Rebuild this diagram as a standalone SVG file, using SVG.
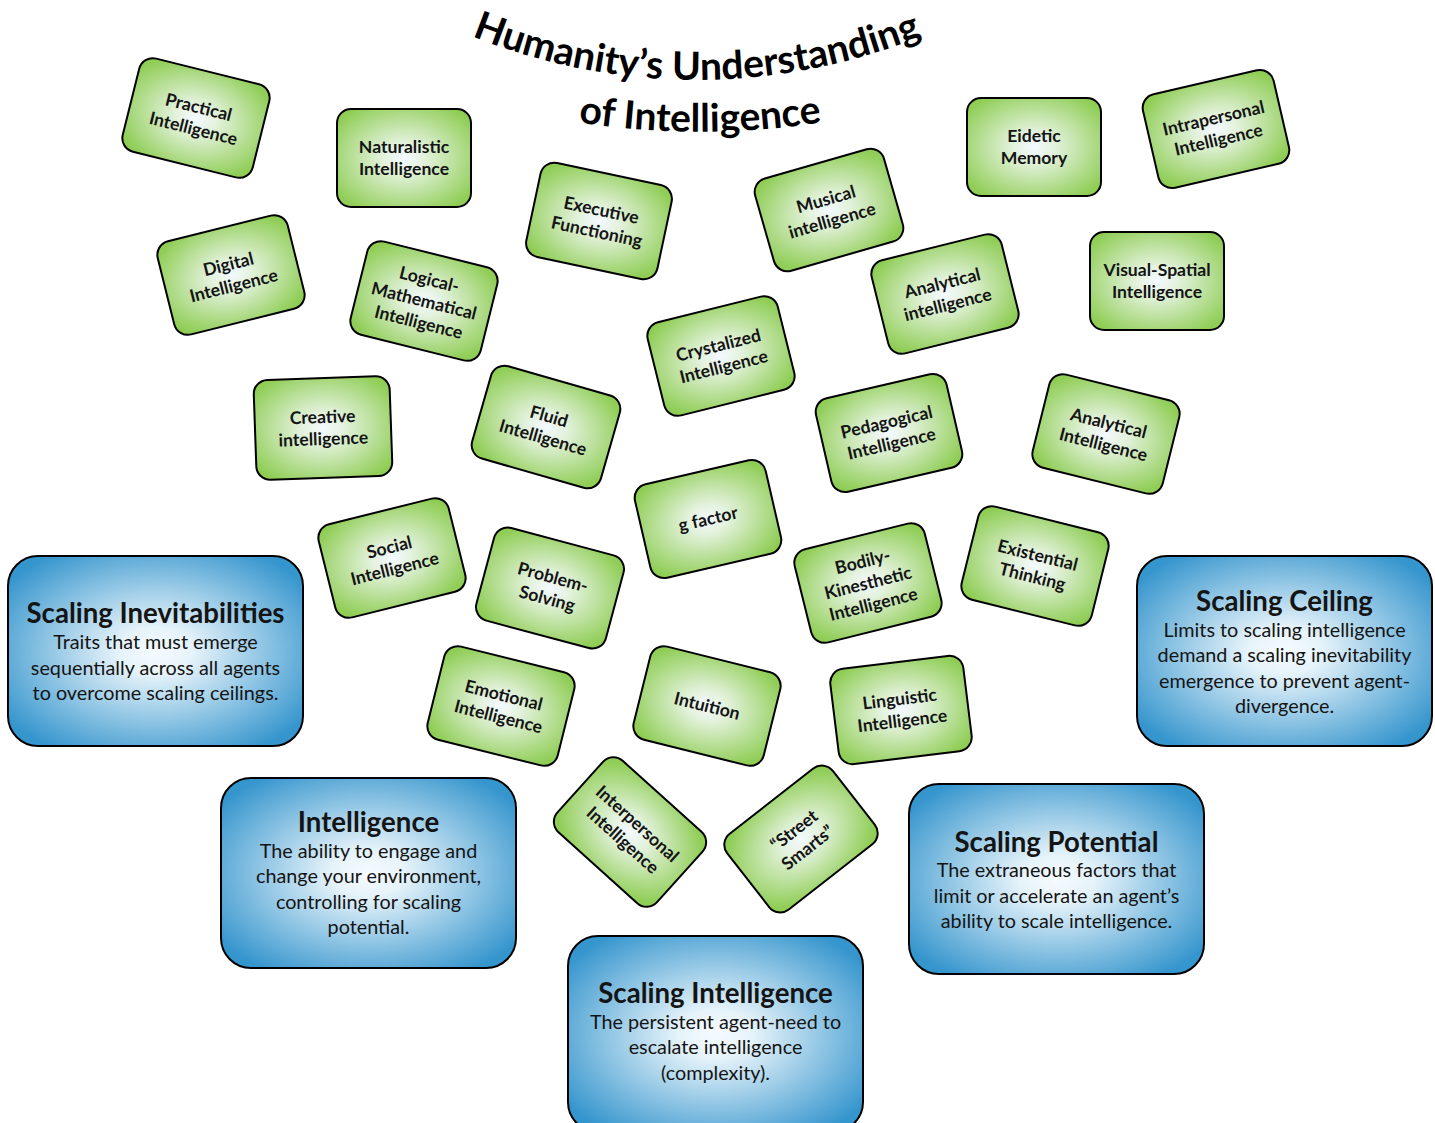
<svg xmlns="http://www.w3.org/2000/svg" width="1435" height="1123" viewBox="0 0 1435 1123">
<defs>
<radialGradient id="gGreen" cx="50%" cy="50%" r="62%">
<stop offset="0" stop-color="#f4f9ff"/>
<stop offset="0.25" stop-color="#e3f2dc"/>
<stop offset="1" stop-color="#8fcd55"/>
</radialGradient>
<radialGradient id="gBlue" cx="50%" cy="50%" r="62%">
<stop offset="0" stop-color="#f6fbff"/>
<stop offset="0.2" stop-color="#e6f3fa"/>
<stop offset="1" stop-color="#3595cd"/>
</radialGradient>
<path id="arc1" d="M 467,34 A 600 600 0 0 0 927,34"/>
<path id="arc2" d="M 560,119.4 A 800 800 0 0 0 840,119.4"/>
</defs>
<style>
.g rect{fill:url(#gGreen);stroke:#000;stroke-width:2}
.g text{font-family:Lato,"Open Sans","Liberation Sans",sans-serif;font-weight:bold;font-size:17.6px;fill:#141414;text-anchor:middle}
.b rect{fill:url(#gBlue);stroke:#000;stroke-width:2}
.b text{font-family:Lato,"Open Sans","Liberation Sans",sans-serif;fill:#141414;text-anchor:middle}
.b .t{font-weight:bold;font-size:27.6px}
.b .d{font-size:19.8px}
.title{font-family:Lato,"Open Sans","Liberation Sans",sans-serif;font-weight:bold;font-size:39px;fill:#000}
</style>
<rect width="1435" height="1123" fill="#fff"/>

<g id="title">
<text class="title"><textPath href="#arc1" startOffset="50%" text-anchor="middle">Humanity’s Understanding</textPath></text>
<text class="title"><textPath href="#arc2" startOffset="50%" text-anchor="middle">of Intelligence</textPath></text>
</g>

<g id="connectors"></g>

<g id="n-practical" class="g" transform="translate(196,118) rotate(14)"><rect x="-67" y="-48" width="134" height="96" rx="14"/><text y="-5">Practical</text><text y="17">Intelligence</text></g>
<g id="n-naturalistic" class="g" transform="translate(404,158)"><rect x="-67" y="-49" width="134" height="98" rx="14"/><text y="-5">Naturalistic</text><text y="17">Intelligence</text></g>
<g id="n-executive" class="g" transform="translate(599,221) rotate(12)"><rect x="-67" y="-48" width="134" height="96" rx="14"/><text y="-5">Executive</text><text y="17">Functioning</text></g>
<g id="n-musical" class="g" transform="translate(829,210) rotate(-16)"><rect x="-67" y="-48" width="134" height="96" rx="14"/><text y="-5">Musical</text><text y="17">intelligence</text></g>
<g id="n-eidetic" class="g" transform="translate(1034,147)"><rect x="-67" y="-49" width="134" height="98" rx="14"/><text y="-5">Eidetic</text><text y="17">Memory</text></g>
<g id="n-intrapersonal" class="g" transform="translate(1216,129) rotate(-13)"><rect x="-67" y="-48" width="134" height="96" rx="14"/><text y="-5">Intrapersonal</text><text y="17">Intelligence</text></g>
<g id="n-digital" class="g" transform="translate(231,275) rotate(-14)"><rect x="-67" y="-48" width="134" height="96" rx="14"/><text y="-5">Digital</text><text y="17">Intelligence</text></g>
<g id="n-logical" class="g" transform="translate(424,301) rotate(14)"><rect x="-67" y="-48" width="134" height="96" rx="14"/><text y="-16">Logical-</text><text y="6">Mathematical</text><text y="28">Intelligence</text></g>
<g id="n-crystalized" class="g" transform="translate(721,356) rotate(-14)"><rect x="-67" y="-48" width="134" height="96" rx="14"/><text y="-5">Crystalized</text><text y="17">Intelligence</text></g>
<g id="n-analytical1" class="g" transform="translate(945,294) rotate(-14)"><rect x="-67" y="-48" width="134" height="96" rx="14"/><text y="-5">Analytical</text><text y="17">intelligence</text></g>
<g id="n-visual" class="g" transform="translate(1157,281)"><rect x="-67" y="-49" width="134" height="98" rx="14"/><text y="-5">Visual-Spatial</text><text y="17">Intelligence</text></g>
<g id="n-creative" class="g" transform="translate(323,428) rotate(-2)"><rect x="-68" y="-50" width="136" height="100" rx="14"/><text y="-5">Creative</text><text y="17">intelligence</text></g>
<g id="n-fluid" class="g" transform="translate(546,427) rotate(16)"><rect x="-67" y="-48" width="134" height="96" rx="14"/><text y="-5">Fluid</text><text y="17">Intelligence</text></g>
<g id="n-pedagogical" class="g" transform="translate(889,433) rotate(-13)"><rect x="-67" y="-48" width="134" height="96" rx="14"/><text y="-5">Pedagogical</text><text y="17">Intelligence</text></g>
<g id="n-analytical2" class="g" transform="translate(1106,434) rotate(14)"><rect x="-67" y="-48" width="134" height="96" rx="14"/><text y="-5">Analytical</text><text y="17">Intelligence</text></g>
<g id="n-gfactor" class="g" transform="translate(708,519) rotate(-13)"><rect x="-67" y="-48" width="134" height="96" rx="14"/><text y="6">g factor</text></g>
<g id="n-social" class="g" transform="translate(392,558) rotate(-14)"><rect x="-67" y="-48" width="134" height="96" rx="14"/><text y="-5">Social</text><text y="17">Intelligence</text></g>
<g id="n-problem" class="g" transform="translate(550,588) rotate(15)"><rect x="-67" y="-48" width="134" height="96" rx="14"/><text y="-5">Problem-</text><text y="17">Solving</text></g>
<g id="n-bodily" class="g" transform="translate(868,583) rotate(-14)"><rect x="-67" y="-48" width="134" height="96" rx="14"/><text y="-16">Bodily-</text><text y="6">Kinesthetic</text><text y="28">Intelligence</text></g>
<g id="n-existential" class="g" transform="translate(1035,566) rotate(14)"><rect x="-67" y="-48" width="134" height="96" rx="14"/><text y="-5">Existential</text><text y="17">Thinking</text></g>
<g id="n-emotional" class="g" transform="translate(501,706) rotate(14)"><rect x="-67" y="-48" width="134" height="96" rx="14"/><text y="-5">Emotional</text><text y="17">Intelligence</text></g>
<g id="n-intuition" class="g" transform="translate(707,706) rotate(14)"><rect x="-67" y="-48" width="134" height="96" rx="14"/><text y="6">Intuition</text></g>
<g id="n-linguistic" class="g" transform="translate(901,710) rotate(-7)"><rect x="-67" y="-48" width="134" height="96" rx="14"/><text y="-5">Linguistic</text><text y="17">Intelligence</text></g>
<g id="n-interpersonal" class="g" transform="translate(630,832) rotate(42)"><rect x="-67" y="-48" width="134" height="96" rx="14"/><text y="-5">Interpersonal</text><text y="17">Intelligence</text></g>
<g id="n-street" class="g" transform="translate(801,839) rotate(-38)"><rect x="-67" y="-48" width="134" height="96" rx="14"/><text y="-5">“Street</text><text y="17">Smarts”</text></g>

<g id="b-inevitabilities" class="b"><rect x="8" y="556" width="295" height="190" rx="30"/><text class="t" x="155.5" y="623">Scaling Inevitabilities</text><text class="d" x="155.5" y="649">Traits that must emerge</text><text class="d" x="155.5" y="675">sequentially across all agents</text><text class="d" x="155.5" y="700">to overcome scaling ceilings.</text></g>
<g id="b-intelligence" class="b"><rect x="221" y="778" width="295" height="190" rx="30"/><text class="t" x="368.5" y="832">Intelligence</text><text class="d" x="368.5" y="858">The ability to engage and</text><text class="d" x="368.5" y="883">change your environment,</text><text class="d" x="368.5" y="909">controlling for scaling</text><text class="d" x="368.5" y="934">potential.</text></g>
<g id="b-scaling-intelligence" class="b"><rect x="568" y="936" width="295" height="196" rx="30"/><text class="t" x="715.5" y="1003">Scaling Intelligence</text><text class="d" x="715.5" y="1029">The persistent agent-need to</text><text class="d" x="715.5" y="1054">escalate intelligence</text><text class="d" x="715.5" y="1080">(complexity).</text></g>
<g id="b-potential" class="b"><rect x="909" y="784" width="295" height="190" rx="30"/><text class="t" x="1056.5" y="852">Scaling Potential</text><text class="d" x="1056.5" y="877">The extraneous factors that</text><text class="d" x="1056.5" y="903">limit or accelerate an agent’s</text><text class="d" x="1056.5" y="928">ability to scale intelligence.</text></g>
<g id="b-ceiling" class="b"><rect x="1137" y="556" width="295" height="190" rx="30"/><text class="t" x="1284.5" y="611">Scaling Ceiling</text><text class="d" x="1284.5" y="637">Limits to scaling intelligence</text><text class="d" x="1284.5" y="662">demand a scaling inevitability</text><text class="d" x="1284.5" y="688">emergence to prevent agent-</text><text class="d" x="1284.5" y="713">divergence.</text></g>
</svg>
